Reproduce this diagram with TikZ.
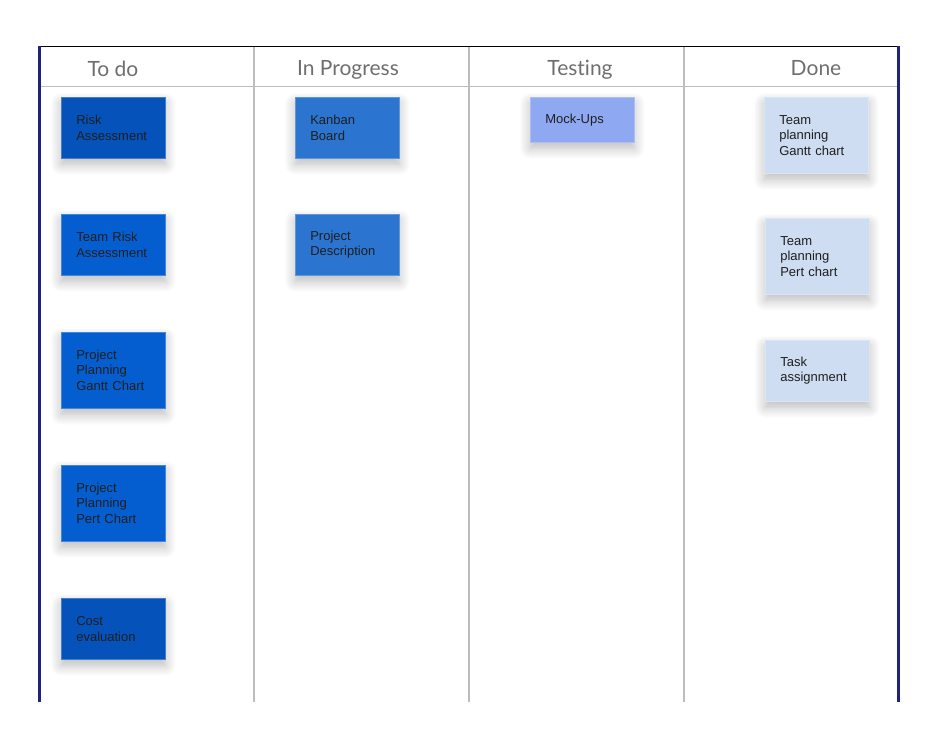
\documentclass[tikz,border=0pt]{standalone}
\usepackage{fontspec}
\setmainfont{Liberation Sans}
\newfontfamily\headfont[Ligatures=NoCommon]{Lato}
\usetikzlibrary{shadows.blur}

\definecolor{navyline}{HTML}{1F2380}
\definecolor{gridgray}{HTML}{BDBDBD}
\definecolor{headgray}{HTML}{6E6E6E}
\definecolor{todoA}{HTML}{0452BA}
\definecolor{todoB}{HTML}{055ED0}
\definecolor{progblue}{HTML}{2B74D0}
\definecolor{testblue}{HTML}{8FA8F2}
\definecolor{doneblue}{HTML}{CEDDF1}

\begin{document}
\begin{tikzpicture}[x=1pt,y=-1pt,
		card/.style={draw=#1!75!white,fill=#1,anchor=north west,text width=74pt,
			inner xsep=15pt,inner ysep=0pt,align=left,line width=0.6pt,
			font=\fontsize{13}{15.5}\selectfont,text=black!88,
			blur shadow={shadow xshift=0pt,shadow yshift=-6pt,shadow blur radius=11pt,
				shadow blur steps=12,shadow opacity=28}},
		head/.style={font=\headfont\fontsize{21}{24}\selectfont,text=headgray},
		]
		\useasboundingbox (0,0) rectangle (942,736);
		
		% board frame
		\draw[gridgray,line width=1.2pt] (40,86.5) -- (897,86.5);
		\foreach \x in {254,469,684}
		\draw[gridgray,line width=1.2pt] (\x,47) -- (\x,702);
		\draw[line width=1.6pt] (38,46.5) -- (900,46.5);
		\draw[navyline,line width=3.5pt] (39.3,45.8) -- (39.3,702);
		\draw[navyline,line width=3pt] (898.3,45.8) -- (898.3,702);
		
		% column titles
		\node[head] (todo) at (113,68.5) {To do};
		\node[head] (prog) at (348,69.5) {In Progress};
		\node[head] (test) at (580,69.5) {Testing};
		\node[head] (done) at (816,68.5) {Done};
		
		% to do
		\node[card=todoA,minimum height=61pt] (risk) at (61,97) {Risk\\Assessment};
		\node[card=todoB,minimum height=61pt] (teamrisk) at (61,214) {Team Risk\\Assessment};
		\node[card=todoB,minimum height=76pt] (gantt) at (61,332) {Project\\Planning\\Gantt Chart};
		\node[card=todoB,minimum height=76pt] (pert) at (61,465) {Project\\Planning\\Pert Chart};
		\node[card=todoA,minimum height=61pt] (cost) at (61,598) {Cost\\evaluation};
		
		% in progress
		\node[card=progblue,minimum height=61pt] (kanban) at (295,97) {Kanban\\Board};
		\node[card=progblue,minimum height=61pt] (descr) at (295,214) {Project\\Description};
		
		% testing
		\node[card=testblue,minimum height=45pt] (mock) at (530,97) {Mock-Ups};
		
		% done
		\node[card=doneblue,minimum height=76pt] (tgantt) at (764,97) {Team\\planning\\Gantt chart};
		\node[card=doneblue,minimum height=76pt] (tpert) at (765,218) {Team\\planning\\Pert chart};
		\node[card=doneblue,minimum height=61pt] (task) at (765,340) {Task\\assignment};
	\end{tikzpicture}
\end{document}
